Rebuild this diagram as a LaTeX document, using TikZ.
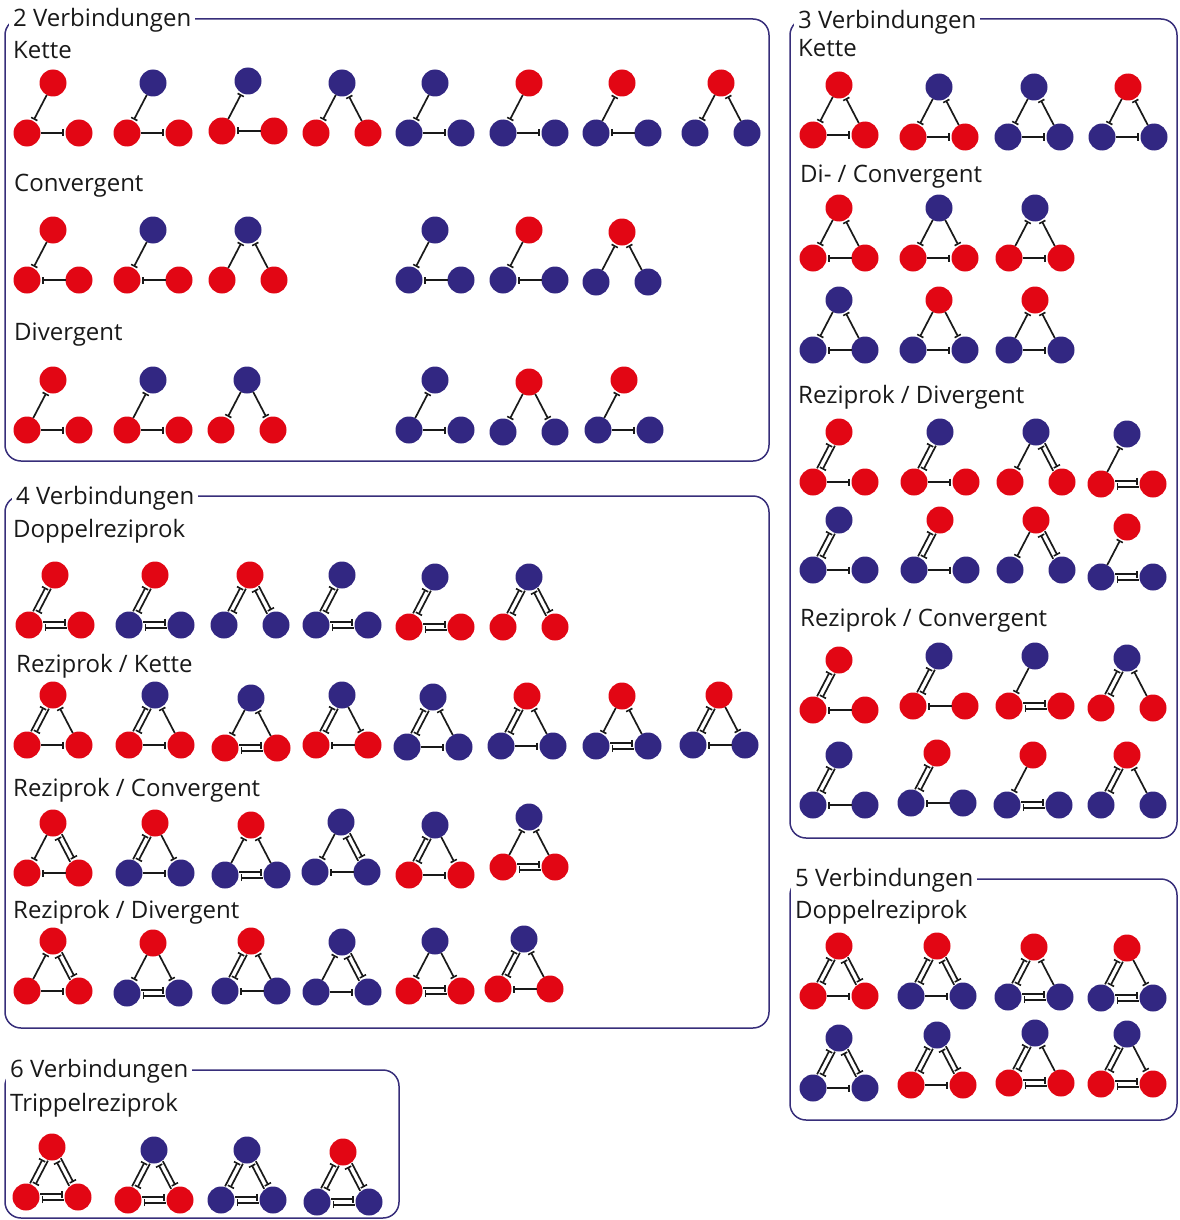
\documentclass[tikz,border=0pt]{standalone}
\usepackage{fontspec}
\setmainfont{Open Sans}
\usetikzlibrary{calc,arrows.meta}
\definecolor{mred}{RGB}{226,6,20}
\definecolor{mblue}{RGB}{50,39,130}
\definecolor{boxc}{RGB}{55,46,122}
\definecolor{inkc}{RGB}{25,25,25}
\newcounter{mc}
\newcommand\biedge[2]{%
 \draw[edge] ($(#1.center)!14pt!(#2.center)!2.7pt!90:(#2.center)$) -- ($(#2.center)!14pt!(#1.center)!2.7pt!-90:(#1.center)$);
 \draw[edge] ($(#2.center)!14pt!(#1.center)!2.7pt!90:(#1.center)$) -- ($(#1.center)!14pt!(#2.center)!2.7pt!-90:(#2.center)$);}
\newcommand\mkedge[3]{\ifcase#1\or\draw[edge] (#2) -- (#3);\or\draw[edge] (#3) -- (#2);\or\biedge{#2}{#3}\fi}
\newcommand\mtf[8]{%
 \stepcounter{mc}%
 \node[nd,fill=#3] (t\themc) at (#1,#2) {};
 \node[nd,fill=#4] (l\themc) at (#1-26,#2+50) {};
 \node[nd,fill=#5] (r\themc) at (#1+26,#2+50) {};
 \mkedge{#6}{t\themc}{l\themc}%
 \mkedge{#7}{t\themc}{r\themc}%
 \mkedge{#8}{l\themc}{r\themc}%
}
\begin{document}
\begin{tikzpicture}[x=1pt,y=-1pt,
 nd/.style={circle,minimum size=27pt,inner sep=0pt,outer sep=0pt,draw=none},
 edge/.style={draw=inkc,line width=1.7pt,shorten >=1.5pt,-{Bar[width=7pt,line width=1.6pt]}},
 frame/.style={draw=boxc,line width=1.5pt,rounded corners=16pt},
 ttl/.style={fill=white,inner xsep=4pt,inner ysep=2pt,anchor=base west,font=\fontsize{24}{28}\selectfont,text=inkc},
 sub/.style={inner sep=0pt,anchor=base west,font=\fontsize{24}{28}\selectfont,text=inkc}]
\useasboundingbox (0,0) rectangle (1179,1220);
% frames
\draw[frame] (5,19) rectangle (769,461);
\draw[frame] (5,496) rectangle (769,1028);
\draw[frame] (5,1070) rectangle (399,1218);
\draw[frame] (790,19) rectangle (1177,838);
\draw[frame] (790,879) rectangle (1177,1120);
% titles
\node[ttl] (h2) at (9,27) {2 Verbindungen};
\node[ttl] (h4) at (12,504.5) {4 Verbindungen};
\node[ttl] (h6) at (6,1077.5) {6 Verbindungen};
\node[ttl] (h3) at (794,28.5) {3 Verbindungen};
\node[ttl] (h5) at (791,886.5) {5 Verbindungen};
% subtitles
\node[sub] (s1) at (13,59) {Kette};
\node[sub] (s2) at (14,191) {Convergent};
\node[sub] (s3) at (14,340) {Divergent};
\node[sub] (s4) at (13,537) {Doppelreziprok};
\node[sub] (s5) at (16,672) {Reziprok / Kette};
\node[sub] (s6) at (13,796) {Reziprok / Convergent};
\node[sub] (s7) at (13,918) {Reziprok / Divergent};
\node[sub] (s8) at (10,1111) {Trippelreziprok};
\node[sub] (s9) at (798,57) {Kette};
\node[sub] (s10) at (800,182) {Di- / Convergent};
\node[sub] (s11) at (798,403) {Reziprok / Divergent};
\node[sub] (s12) at (800,626) {Reziprok / Convergent};
\node[sub] (s13) at (795,918) {Doppelreziprok};
% ---- 2 Verbindungen
\mtf{53}{83}{mred}{mred}{mred}{1}{0}{1}
\mtf{153}{83}{mblue}{mred}{mred}{1}{0}{1}
\mtf{248}{81}{mblue}{mred}{mred}{2}{0}{2}
\mtf{342}{83}{mblue}{mred}{mred}{1}{2}{0}
\mtf{435}{83}{mblue}{mblue}{mblue}{1}{0}{1}
\mtf{529}{83}{mred}{mblue}{mblue}{1}{0}{1}
\mtf{622}{83}{mred}{mblue}{mblue}{2}{0}{2}
\mtf{721}{83}{mred}{mblue}{mblue}{1}{2}{0}
\mtf{53}{230}{mred}{mred}{mred}{1}{0}{2}
\mtf{153}{230}{mblue}{mred}{mred}{1}{0}{2}
\mtf{248}{230}{mblue}{mred}{mred}{2}{2}{0}
\mtf{435}{230}{mblue}{mblue}{mblue}{1}{0}{2}
\mtf{529}{230}{mred}{mblue}{mblue}{1}{0}{2}
\mtf{622}{232}{mred}{mblue}{mblue}{2}{2}{0}
\mtf{53}{380}{mred}{mred}{mred}{2}{0}{1}
\mtf{153}{380}{mblue}{mred}{mred}{2}{0}{1}
\mtf{247}{380}{mblue}{mred}{mred}{1}{1}{0}
\mtf{435}{380}{mblue}{mblue}{mblue}{2}{0}{1}
\mtf{529}{382}{mred}{mblue}{mblue}{1}{1}{0}
\mtf{624}{380}{mred}{mblue}{mblue}{2}{0}{1}
% ---- 3 Verbindungen
\mtf{839}{85}{mred}{mred}{mred}{1}{2}{1}
\mtf{939}{87}{mblue}{mred}{mred}{1}{2}{1}
\mtf{1034}{87}{mblue}{mblue}{mblue}{1}{2}{1}
\mtf{1128}{87}{mred}{mblue}{mblue}{1}{2}{1}
\mtf{839}{208}{mred}{mred}{mred}{1}{2}{2}
\mtf{939}{208}{mblue}{mred}{mred}{1}{1}{1}
\mtf{1035}{208}{mblue}{mred}{mred}{2}{2}{1}
\mtf{839}{300}{mblue}{mblue}{mblue}{1}{2}{2}
\mtf{939}{300}{mred}{mblue}{mblue}{1}{1}{1}
\mtf{1035}{300}{mred}{mblue}{mblue}{2}{2}{1}
\mtf{839}{432}{mred}{mred}{mred}{3}{0}{1}
\mtf{940}{432}{mblue}{mred}{mred}{3}{0}{1}
\mtf{1036}{432}{mblue}{mred}{mred}{1}{3}{0}
\mtf{1127}{434}{mblue}{mred}{mred}{2}{0}{3}
\mtf{839}{520}{mblue}{mblue}{mblue}{3}{0}{1}
\mtf{940}{520}{mred}{mblue}{mblue}{3}{0}{1}
\mtf{1036}{520}{mred}{mblue}{mblue}{1}{3}{0}
\mtf{1127}{527}{mred}{mblue}{mblue}{2}{0}{3}
\mtf{839}{660}{mred}{mred}{mred}{3}{0}{2}
\mtf{939}{656}{mblue}{mred}{mred}{3}{0}{2}
\mtf{1035}{656}{mblue}{mred}{mred}{1}{0}{3}
\mtf{1127}{658}{mblue}{mred}{mred}{3}{2}{0}
\mtf{839}{755}{mblue}{mblue}{mblue}{3}{0}{2}
\mtf{937}{753}{mred}{mblue}{mblue}{3}{0}{2}
\mtf{1033}{755}{mred}{mblue}{mblue}{1}{0}{3}
\mtf{1127}{755}{mred}{mblue}{mblue}{3}{2}{0}
% ---- 5 Verbindungen
\mtf{839}{946}{mred}{mred}{mred}{3}{3}{1}
\mtf{937}{946}{mred}{mblue}{mblue}{3}{3}{1}
\mtf{1034}{947}{mred}{mblue}{mblue}{3}{2}{3}
\mtf{1127}{948}{mred}{mblue}{mblue}{3}{1}{3}
\mtf{839}{1038}{mblue}{mblue}{mblue}{3}{3}{1}
\mtf{937}{1035}{mblue}{mred}{mred}{3}{3}{1}
\mtf{1035}{1033}{mblue}{mred}{mred}{3}{2}{3}
\mtf{1127}{1034}{mblue}{mred}{mred}{3}{1}{3}
% ---- 6 Verbindungen
\mtf{52}{1147}{mred}{mred}{mred}{3}{3}{3}
\mtf{154}{1150}{mblue}{mred}{mred}{3}{3}{3}
\mtf{247}{1150}{mblue}{mblue}{mblue}{3}{3}{3}
\mtf{343}{1152}{mred}{mblue}{mblue}{3}{3}{3}
% ---- 4 Verbindungen
\mtf{55}{575}{mred}{mred}{mred}{3}{0}{3}
\mtf{155}{575}{mred}{mblue}{mblue}{3}{0}{3}
\mtf{250}{575}{mred}{mblue}{mblue}{3}{3}{0}
\mtf{342}{575}{mblue}{mblue}{mblue}{3}{0}{3}
\mtf{435}{577}{mblue}{mred}{mred}{3}{0}{3}
\mtf{529}{577}{mblue}{mred}{mred}{3}{3}{0}
\mtf{53}{695}{mred}{mred}{mred}{3}{2}{1}
\mtf{155}{695}{mblue}{mred}{mred}{3}{2}{1}
\mtf{251}{698}{mblue}{mred}{mred}{1}{2}{3}
\mtf{342}{695}{mblue}{mred}{mred}{3}{1}{2}
\mtf{433}{697}{mblue}{mblue}{mblue}{3}{2}{1}
\mtf{527}{696}{mred}{mblue}{mblue}{3}{2}{1}
\mtf{622}{696}{mred}{mblue}{mblue}{1}{2}{3}
\mtf{719}{695}{mred}{mblue}{mblue}{3}{1}{2}
\mtf{53}{823}{mred}{mred}{mred}{1}{3}{2}
\mtf{155}{823}{mred}{mblue}{mblue}{3}{1}{1}
\mtf{251}{825}{mred}{mblue}{mblue}{2}{2}{3}
\mtf{341}{822}{mblue}{mblue}{mblue}{1}{3}{2}
\mtf{435}{825}{mblue}{mred}{mred}{3}{1}{1}
\mtf{529}{817}{mblue}{mred}{mred}{2}{2}{3}
\mtf{53}{941}{mred}{mred}{mred}{2}{3}{1}
\mtf{153}{943}{mred}{mblue}{mblue}{1}{1}{3}
\mtf{251}{941}{mred}{mblue}{mblue}{3}{2}{2}
\mtf{342}{942}{mblue}{mblue}{mblue}{2}{3}{1}
\mtf{435}{941}{mblue}{mred}{mred}{1}{1}{3}
\mtf{524}{939}{mblue}{mred}{mred}{3}{2}{2}
\end{tikzpicture}
\end{document}
